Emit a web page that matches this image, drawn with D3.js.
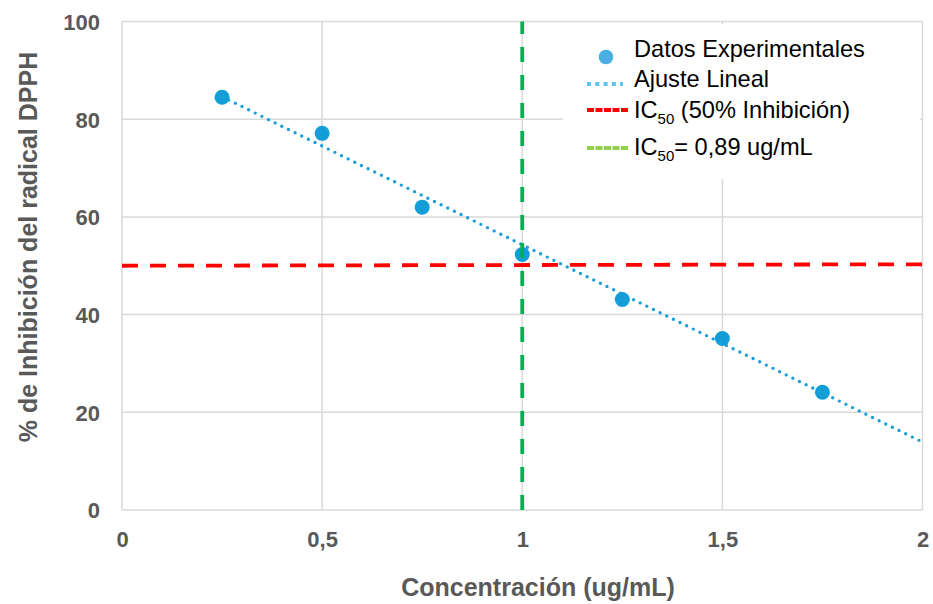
<!DOCTYPE html>
<html>
<head>
<meta charset="utf-8">
<script src="https://cdn.jsdelivr.net/npm/d3@7"></script>
<style>
  body { margin: 0; background: #fff; }
  text { font-family: "Liberation Sans", Arial, sans-serif; }
  .tick-label { font-size: 22px; font-weight: bold; fill: #595959; }
  .axis-title { font-size: 25px; font-weight: bold; fill: #595959; }
  .legend-text { font-size: 23.6px; fill: #000; }
</style>
</head>
<body>
<script>
var fullWidth = 933;
var fullHeight = 604;

// data
var concentracion = [0.25, 0.5, 0.75, 1, 1.25, 1.5, 1.75];
var inhibicion = [84.5, 77.1, 62.0, 52.3, 43.1, 35.1, 24.1];

var ajusteX = [0.25, 2];
var ajusteY = [84.6, 13.9];

var ic50X = [0, 2];
var ic50Y = [50, 50.3];

var ic50ConcX = [1, 1];
var ic50ConcY = [0, 100];

var xTicks = [0, 0.5, 1, 1.5, 2];
var yTicks = [0, 20, 40, 60, 80, 100];

var legendLabels = ["Datos Experimentales", "Ajuste Lineal", "IC|50| (50% Inhibición)", "IC|50|= 0,89 ug/mL"];

var locale = d3.formatLocale({decimal: ",", thousands: ".", grouping: [3], currency: ["", ""]});
var fmt = locale.format("~g");

var svg = d3.select("body")
            .append("svg")
            .attr("width", fullWidth)
            .attr("height", fullHeight);

var xScale = d3.scaleLinear().domain([0, 2]).range([122, 922.5]);
var yScale = d3.scaleLinear().domain([0, 100]).range([510, 21.5]);

// gridlines
svg.append("g")
   .selectAll("line.gy")
   .data(yTicks)
   .enter()
   .append("line")
   .attr("x1", xScale(0))
   .attr("x2", xScale(2))
   .attr("y1", function(d) { return yScale(d); })
   .attr("y2", function(d) { return yScale(d); })
   .style("stroke", "#d9d9d9")
   .style("stroke-width", 1.5);

svg.append("g")
   .selectAll("line.gx")
   .data(xTicks)
   .enter()
   .append("line")
   .attr("x1", function(d) { return xScale(d); })
   .attr("x2", function(d) { return xScale(d); })
   .attr("y1", yScale(0))
   .attr("y2", yScale(100))
   .style("stroke", "#d9d9d9")
   .style("stroke-width", 1.5);

// tick labels
var xAxis = d3.axisBottom(xScale).tickValues(xTicks).tickFormat(fmt).tickSize(0).tickPadding(0);
var gx = svg.append("g")
   .attr("transform", "translate(0,547)")
   .call(xAxis);
gx.select(".domain").remove();
gx.selectAll("text").attr("class", "tick-label").attr("dy", 0).attr("y", 0);

var yAxis = d3.axisLeft(yScale).tickValues(yTicks).tickFormat(fmt).tickSize(0).tickPadding(0);
var gy = svg.append("g")
   .attr("transform", "translate(100,0)")
   .call(yAxis);
gy.select(".domain").remove();
gy.selectAll("text").attr("class", "tick-label").attr("dy", "0.36em").attr("x", 0);
svg.selectAll(".tick-label").attr("font-size", null).attr("font-family", null).attr("fill", null);

var line = d3.line()
             .x(function(d) { return xScale(d[0]); })
             .y(function(d) { return yScale(d[1]); });

// data points
svg.selectAll("circle.dot")
   .data(d3.zip(concentracion, inhibicion))
   .enter()
   .append("circle")
   .attr("class", "dot")
   .attr("cx", function(d) { return xScale(d[0]); })
   .attr("cy", function(d) { return yScale(d[1]); })
   .attr("r", 7.5)
   .style("fill", "#139ed7");

// linear fit
svg.append("path")
   .datum(d3.zip(ajusteX, ajusteY))
   .attr("d", line)
   .style("fill", "none")
   .style("stroke", "#1a9fd9")
   .style("stroke-width", 3.4)
   .style("stroke-linecap", "round")
   .style("stroke-dasharray", "0 7.4");

// IC50 horizontal
svg.append("path")
   .datum(d3.zip(ic50X, ic50Y))
   .attr("d", line)
   .style("fill", "none")
   .style("stroke", "#ff0000")
   .style("stroke-width", 3.8)
   .style("stroke-dasharray", "16 12");

// IC50 vertical
svg.append("path")
   .datum(d3.zip(ic50ConcX, ic50ConcY))
   .attr("d", line)
   .style("fill", "none")
   .style("stroke", "#00b050")
   .style("stroke-width", 3.8)
   .style("stroke-dasharray", "15 13");

// legend
var legend = svg.append("g");
legend.append("rect")
      .attr("x", 563)
      .attr("y", 24)
      .attr("width", 357)
      .attr("height", 155)
      .style("fill", "#fff");

var rowY = [56.5, 86.5, 118, 155];
var symY = [57, 84, 110, 148];

legend.append("circle")
      .attr("cx", 606)
      .attr("cy", symY[0])
      .attr("r", 7.3)
      .style("fill", "#4aafe3");

legend.append("line")
      .attr("x1", 587).attr("x2", 623)
      .attr("y1", symY[1]).attr("y2", symY[1])
      .style("stroke", "#5bc4f0")
      .style("stroke-width", 4)
      .style("stroke-dasharray", "4 4.3");

legend.append("line")
      .attr("x1", 587).attr("x2", 628)
      .attr("y1", symY[2]).attr("y2", symY[2])
      .style("stroke", "#ff0000")
      .style("stroke-width", 4)
      .style("stroke-dasharray", "7 1.5");

legend.append("line")
      .attr("x1", 587).attr("x2", 628)
      .attr("y1", symY[3]).attr("y2", symY[3])
      .style("stroke", "#92d050")
      .style("stroke-width", 4)
      .style("stroke-dasharray", "7 1.5");

legendLabels.forEach(function(lbl, i) {
    var t = legend.append("text")
                  .attr("class", "legend-text")
                  .attr("x", 634)
                  .attr("y", rowY[i]);
    var parts = lbl.split("|");
    if (parts.length === 1) {
        t.text(lbl);
    } else {
        t.append("tspan").text(parts[0]);
        t.append("tspan").attr("dy", 6).style("font-size", "15px").text(parts[1]);
        t.append("tspan").attr("dy", -6).text(parts[2]);
    }
});

// axis titles
svg.append("text")
   .attr("class", "axis-title")
   .attr("x", 538)
   .attr("y", 596)
   .style("text-anchor", "middle")
   .text("Concentración (ug/mL)");

svg.append("text")
   .attr("class", "axis-title")
   .attr("transform", "translate(37,247) rotate(-90)")
   .style("text-anchor", "middle")
   .text("% de Inhibición del radical DPPH");
</script>
</body>
</html>
